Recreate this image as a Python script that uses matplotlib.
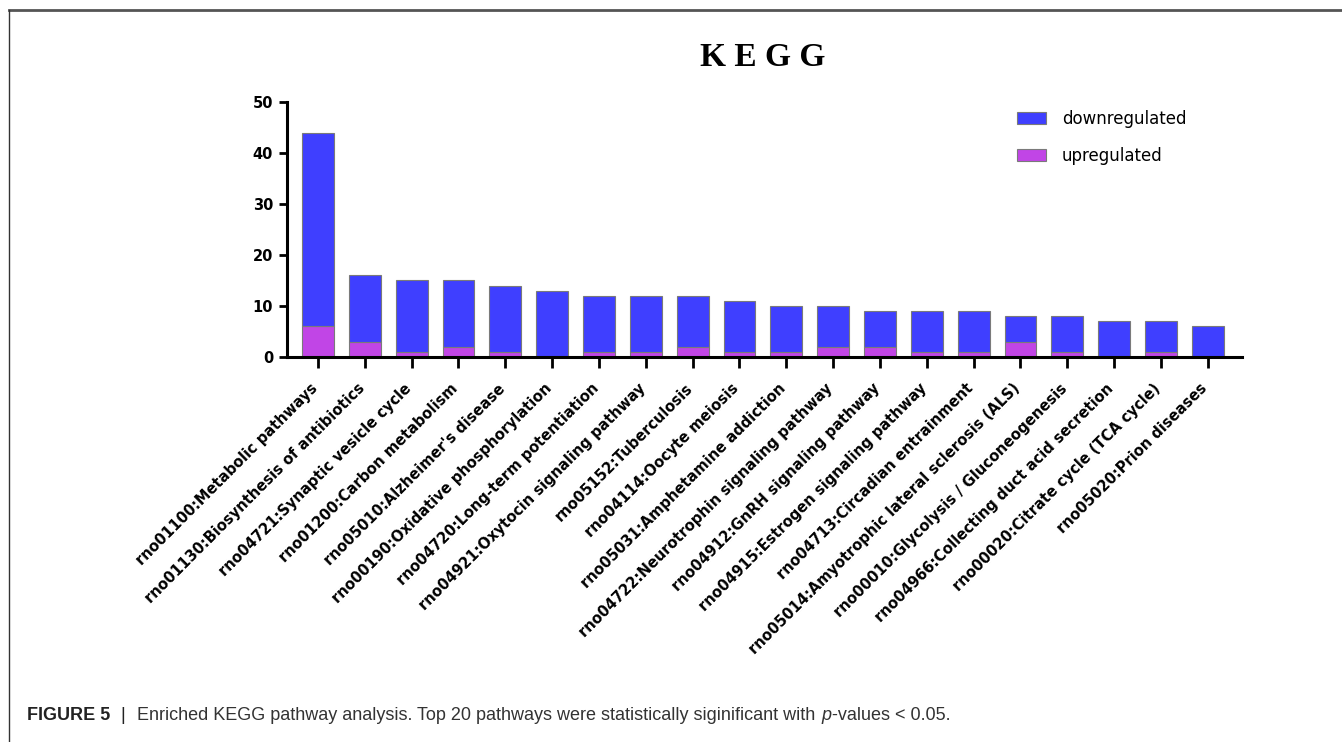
import matplotlib
matplotlib.use("Agg")
import matplotlib.pyplot as plt
import matplotlib.transforms as mtransforms
from matplotlib.lines import Line2D
from matplotlib.patches import Patch

# KEGG pathways, top 20 by gene count
pathways = [
    "rno01100:Metabolic pathways",
    "rno01130:Biosynthesis of antibiotics",
    "rno04721:Synaptic vesicle cycle",
    "rno01200:Carbon metabolism",
    "rno05010:Alzheimer's disease",
    "rno00190:Oxidative phosphorylation",
    "rno04720:Long-term potentiation",
    "rno04921:Oxytocin signaling pathway",
    "rno05152:Tuberculosis",
    "rno04114:Oocyte meiosis",
    "rno05031:Amphetamine addiction",
    "rno04722:Neurotrophin signaling pathway",
    "rno04912:GnRH signaling pathway",
    "rno04915:Estrogen signaling pathway",
    "rno04713:Circadian entrainment",
    "rno05014:Amyotrophic lateral sclerosis (ALS)",
    "rno00010:Glycolysis / Gluconeogenesis",
    "rno04966:Collecting duct acid secretion",
    "rno00020:Citrate cycle (TCA cycle)",
    "rno05020:Prion diseases",
]
upregulated = [6, 3, 1, 2, 1, 0, 1, 1, 2, 1, 1, 2, 2, 1, 1, 3, 1, 0, 1, 0]
downregulated = [38, 13, 14, 13, 13, 13, 11, 11, 10, 10, 9, 8, 7, 8, 8, 5, 7, 7, 6, 6]
y_ticks = [0, 10, 20, 30, 40, 50]

BLUE = "#3f3fff"
PINK = "#c145e6"
EDGE = "#7a7a7a"

fig = plt.figure(figsize=(13.42, 7.42), dpi=100)
ax = fig.add_axes([0.2139, 0.5189, 0.9255 - 0.2139, 0.8625 - 0.5189])

x = list(range(len(pathways)))
ax.bar(x, upregulated, width=0.68, color=PINK, edgecolor=EDGE, linewidth=0.8,
       label="upregulated")
ax.bar(x, downregulated, width=0.68, bottom=upregulated, color=BLUE,
       edgecolor=EDGE, linewidth=0.8, label="downregulated")

ax.set_xlim(-0.66, len(pathways) - 1 + 0.73)
ax.set_ylim(0, 50)
ax.set_yticks(y_ticks)
ax.set_yticklabels([str(v) for v in y_ticks], fontsize=10.5, fontweight="bold",
                   family="DejaVu Sans")
ax.set_xticks(x)
ax.set_xticklabels([])

# slanted category labels, anchored just below each tick
label_tf = (mtransforms.blended_transform_factory(ax.transData, ax.transAxes)
            + mtransforms.ScaledTranslation(-8 / 100, -24 / 100,
                                            fig.dpi_scale_trans))
for xi, name in zip(x, pathways):
    ax.text(xi, 0, name, transform=label_tf, rotation=45, ha="right",
            va="top", rotation_mode="anchor", fontsize=10.5,
            fontweight="bold", family="DejaVu Sans", clip_on=False)

for side in ("top", "right"):
    ax.spines[side].set_visible(False)
for side in ("left", "bottom"):
    ax.spines[side].set_linewidth(2.2)
ax.tick_params(axis="y", length=6, width=2, pad=4)
ax.tick_params(axis="x", length=8, width=2, pad=8)

handles = [Patch(facecolor=BLUE, edgecolor=EDGE, linewidth=0.8),
           Patch(facecolor=PINK, edgecolor=EDGE, linewidth=0.8)]
fig.legend(handles, ["downregulated", "upregulated"], loc="upper left",
           bbox_to_anchor=(1017 / 1342, 1 - 110 / 742), frameon=False,
           prop={"family": "DejaVu Sans", "size": 12}, handlelength=1.74,
           handleheight=0.72, labelspacing=1.12, handletextpad=0.96,
           borderpad=0, borderaxespad=0)

fig.text(763 / 1342, 1 - 57 / 742, "K E G G", ha="center", va="center",
         fontsize=24, fontweight="bold", family="Liberation Serif")

# figure frame (top and left rules)
fig.add_artist(Line2D([9 / 1342, 1], [1 - 10 / 742, 1 - 10 / 742],
                      color="#555555", linewidth=2))
fig.add_artist(Line2D([9 / 1342, 9 / 1342], [0, 1 - 10 / 742],
                      color="#333333", linewidth=1))

# caption built piece by piece so the p can be italic
fig.canvas.draw()
renderer = fig.canvas.get_renderer()
cap_y = 1 - 715 / 742
pieces = [
    ("FIGURE 5", "bold", "normal", "#222222"),
    ("  |  ", "normal", "normal", "#222222"),
    ("Enriched KEGG pathway analysis. Top 20 pathways were statistically "
     "siginificant with ", "normal", "normal", "#333333"),
    ("p", "normal", "italic", "#333333"),
    ("-values < 0.05.", "normal", "normal", "#333333"),
]
cur_x = 27
for txt, weight, style, col in pieces:
    t = fig.text(cur_x / 1342, cap_y, txt, ha="left", va="center",
                 fontsize=13, fontweight=weight, fontstyle=style,
                 family="Liberation Sans", color=col)
    bb = t.get_window_extent(renderer=renderer)
    cur_x = bb.x1 + 1

fig.savefig("out.png", dpi=100)
